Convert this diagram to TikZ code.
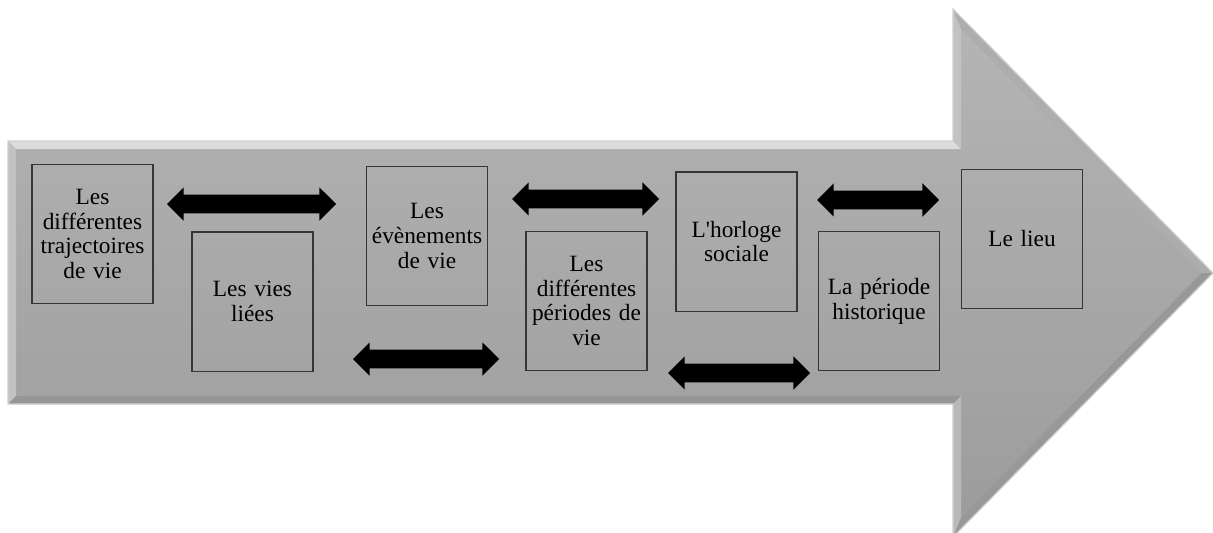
\documentclass[tikz,border=0pt]{standalone}
\usepackage{fontspec}
\setmainfont{Liberation Serif}[Ligatures=TeXOff]
\usetikzlibrary{shapes.arrows}
\definecolor{boxline}{HTML}{363636}
\definecolor{bevtop}{HTML}{DCDCDC}
\definecolor{bevleft}{HTML}{C2C2C2}
\definecolor{bevbot}{HTML}{969696}
\definecolor{bevdiag}{HTML}{ADADAD}
\definecolor{bevdiagb}{HTML}{989898}
\definecolor{outline}{HTML}{CFCFCF}
\begin{document}
\begin{tikzpicture}[x=0.75pt,y=-0.75pt,
  box/.style={draw=boxline, line width=1.1pt, minimum width=90.75pt, minimum height=104.6pt,
    text width=86pt, align=center, inner sep=0pt, font=\fontsize{17.5}{18.6}\selectfont},
  dbl/.style={double arrow, fill=black, draw=none, double arrow head extend=5.6pt,
    inner xsep=0pt, inner ysep=6.75pt}]
\useasboundingbox (0,0) rectangle (1213,532);
\clip (0,0) rectangle (1213,532);
% big arrow body
\shade[top color=gray!58, bottom color=gray!78]
  (8,141) -- (953,141) -- (953,9) -- (1213,273) -- (953,537) -- (953,404) -- (8,404) -- cycle;
% bevels
\fill[bevtop] (8,141) -- (953,141) -- (961,149) -- (16,149) -- cycle;
\fill[bevleft] (8,141) -- (16,149) -- (16,396) -- (8,404) -- cycle;
\fill[bevbot] (8,404) -- (16,396) -- (961,396) -- (953,404) -- cycle;
\fill[bevleft] (953,141) -- (953,9) -- (961,28.5) -- (961,149) -- cycle;
\fill[bevdiag] (953,9) -- (1213,273) -- (1201.8,273) -- (961,28.5) -- cycle;
\fill[bevdiagb] (1213,273) -- (953,537) -- (961,517.5) -- (1201.8,273) -- cycle;
\fill[bevleft!80!bevbot] (953,537) -- (953,404) -- (961,396) -- (961,517.5) -- cycle;
\draw[outline, line width=0.9pt]
  (8,141) -- (953,141) -- (953,9) -- (1213,273) -- (953,537) -- (953,404) -- (8,404) -- cycle;
% boxes
\node[box] (traj) at (92.5,234) {Les\\différentes\\trajectoires\\de vie};
\node[box] (liees) at (252.5,301.5) {Les vies\\liées};
\node[box] (evts) at (427,236) {Les\\évènements\\de vie};
\node[box] (periodes) at (586.5,301) {Les\\différentes\\périodes de\\vie};
\node[box] (horloge) at (736.5,241.5) {L'horloge\\sociale};
\node[box] (histo) at (879,301) {La période\\historique};
\node[box] (lieu) at (1022,239) {Le lieu};
% double arrows
\node[dbl, minimum height=126.75pt] (a1) at (251.5,204) {};
\node[dbl, minimum height=109.5pt] (a2) at (426,359) {};
\node[dbl, minimum height=110.25pt] (a3) at (585.5,199) {};
\node[dbl, minimum height=106.5pt] (a4) at (739,373) {};
\node[dbl, minimum height=91.5pt] (a5) at (878,200) {};
\end{tikzpicture}
\end{document}
